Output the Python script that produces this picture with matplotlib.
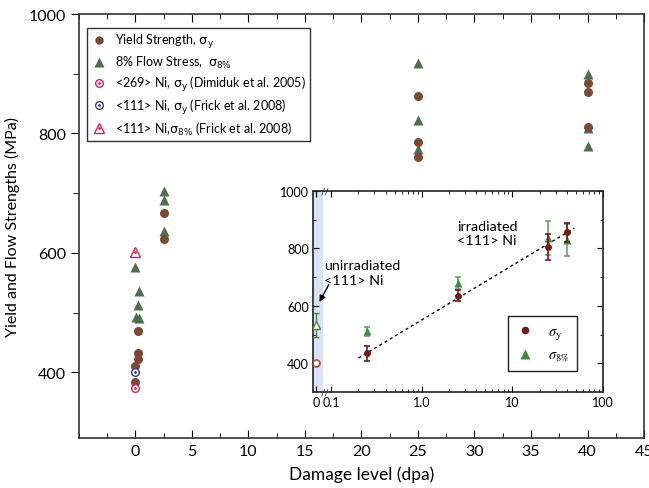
import matplotlib
matplotlib.use("Agg")
import matplotlib.pyplot as plt
import matplotlib.transforms as mtrans
import numpy as np
from matplotlib.legend_handler import HandlerTuple
from matplotlib.lines import Line2D

plt.rcParams['font.family'] = ['Lato', 'DejaVu Sans']
plt.rcParams['mathtext.fontset'] = 'dejavusans'

# ---------------- main chart data ----------------
ys_dpa = [0.2, 0.2, 0.2, 0, 0, 2.5, 2.5, 25, 25, 25, 40, 40, 40]
ys_val = [469, 432, 422, 410, 383, 666, 623, 863, 785, 760, 884, 869, 811]
fs_dpa = [0, 0.3, 0.2, 0.05, 0.3, 2.5, 2.5, 2.5, 25, 25, 25, 40, 40, 40]
fs_val = [576, 537, 512, 493, 491, 703, 688, 636, 918, 822, 774, 899, 809, 779]
dim_dpa, dim_val = [0], [373]        # <269> Ni, sigma_y (Dimiduk 2005)
frk_y_dpa, frk_y_val = [0], [400]    # <111> Ni, sigma_y (Frick 2008)
frk_8_dpa, frk_8_val = [0], [601]    # <111> Ni, sigma_8% (Frick 2008)

# ---------------- inset data ----------------
in_dpa = [0.25, 2.5, 25, 40]
in_sy = [435, 636, 805, 856]
in_sy_err = [26, 19, 44, 33]
in_s8 = [512, 679, 836, 830]
in_s8_err = [16, 22, 60, 55]
unirr_sy, unirr_sy_err = 400, 8
unirr_s8, unirr_s8_err = 532, 42
fit_a, fit_b = 551, 190       # y = a + b*log10(dpa)
fit_x = [0.2, 48]

brown = '#7a4a36'
green = '#4e6e4e'
pink = '#c8285a'
navy = '#3c3c78'

fig = plt.figure(figsize=(6.49, 4.89), dpi=100)
ax = fig.add_axes([0.1217, 0.1022, 0.8706, 0.8671])

ax.plot(fs_dpa, fs_val, '^', color=green, ms=7.5, mec='none', zorder=3)
ax.plot(ys_dpa, ys_val, 'o', color=brown, ms=6.5, mec='none', zorder=3)
h3a, = ax.plot(dim_dpa, dim_val, 'o', mfc='white', mec=pink, ms=5.5, mew=1.0, zorder=4)
h3b, = ax.plot(dim_dpa, dim_val, '.', color=pink, ms=2, zorder=5)
h4a, = ax.plot(frk_y_dpa, frk_y_val, 'o', mfc='white', mec=navy, ms=5.5, mew=1.0, zorder=4)
h4b, = ax.plot(frk_y_dpa, frk_y_val, '.', color=navy, ms=2, zorder=5)
h5a, = ax.plot(frk_8_dpa, frk_8_val, '^', mfc='white', mec=pink, ms=7.5, mew=1.0, zorder=4)
h5b, = ax.plot(frk_8_dpa, frk_8_val, '.', color=pink, ms=2, zorder=5)

ax.set_xlim(-5, 45)
ax.set_ylim(290, 1000)
ax.set_xticks(range(0, 46, 5))
ax.set_xticks([x * 2.5 for x in range(-2, 19)], minor=True)
ax.set_yticks([400, 600, 800, 1000])
ax.set_yticks([500, 700, 900], minor=True)
ax.tick_params(axis='x', which='both', direction='in', top=True, bottom=True, labelsize=11.5, pad=4)
ax.tick_params(axis='x', which='major', length=6)
ax.tick_params(axis='x', which='minor', length=3.5)
ax.tick_params(axis='y', which='both', direction='out', left=True, right=False, labelsize=11.5)
ax.tick_params(axis='y', which='major', length=6)
ax.tick_params(axis='y', which='minor', length=4)
for s in ax.spines.values():
    s.set_linewidth(1.2)
    s.set_color('#333333')
ax.set_xlabel('Damage level (dpa)', fontsize=12.5, labelpad=6)
ax.set_ylabel('Yield and Flow Strengths (MPa)', fontsize=11.5, labelpad=6)

l1 = Line2D([], [], ls='none', marker='o', color=brown, ms=6, mec='none')
l2 = Line2D([], [], ls='none', marker='^', color=green, ms=7, mec='none')
leg = ax.legend([l1, l2, (h3a, h3b), (h4a, h4b), (h5a, h5b)],
                [r'Yield Strength, $\mathrm{\sigma_y}$',
                 r'8% Flow Stress,  $\mathrm{\sigma_{8\%}}$',
                 r'<269> Ni, $\mathrm{\sigma_y}$ (Dimiduk et al. 2005)',
                 r'<111> Ni, $\mathrm{\sigma_y}$ (Frick et al. 2008)',
                 r'<111> Ni,$\mathrm{\sigma_{8\%}}$ (Frick et al. 2008)'],
                handler_map={tuple: HandlerTuple(ndivide=1, pad=0)},
                loc='upper left', bbox_to_anchor=(0.014, 0.967), fontsize=9.0,
                frameon=True, fancybox=False, edgecolor='#333333', framealpha=1,
                labelspacing=0.3, handlelength=1.3, handletextpad=0.6,
                borderpad=0.35, borderaxespad=0)
leg.get_frame().set_linewidth(1.0)

# ---------------- inset ----------------
ai = fig.add_axes([0.4823, 0.1963, 0.4468, 0.4111])
ai.set_xscale('log')
ai.set_xlim(0.063, 100)
ai.set_ylim(300, 1000)
ai.axvspan(0.063, 0.0815, color='#dde1f6', zorder=0, lw=0)

ai.errorbar(in_dpa, in_s8, yerr=in_s8_err, fmt='^', color='#3d8b3d', ecolor='#6aa36a',
            ms=6, mec='none', capsize=2.5, elinewidth=1.2, capthick=1.2, zorder=3)
ai.errorbar(in_dpa, in_sy, yerr=in_sy_err, fmt='o', color='#6e1c1c', ecolor='#6e1c1c',
            ms=5, mec='none', capsize=2.5, elinewidth=1.2, capthick=1.2, zorder=4)
ai.errorbar([0.068], [unirr_s8], yerr=[unirr_s8_err], fmt='^', mfc='white', mec='#4e7e4e',
            ecolor='#4e7e4e', ms=6, mew=1.0, capsize=2.5, elinewidth=1.0, capthick=1.0, zorder=4)
ai.errorbar([0.068], [unirr_sy], yerr=[unirr_sy_err], fmt='o', mfc='white', mec='#9a5a3a',
            ecolor='#9a5a3a', ms=5, mew=1.2, capsize=2, elinewidth=1.0, zorder=4)

fx = np.array(fit_x)
ai.plot(fx, fit_a + fit_b * np.log10(fx), color='black', ls=(0, (2.2, 2.2)), lw=1.0, zorder=2)

ai.set_xticks([0.068, 0.1, 1, 10, 100])
ai.set_xticklabels(['0', '0.1', '1.0', '10', '100'])
minors = [m * d for d in (0.1, 1, 10) for m in range(2, 10)]
ai.set_xticks(minors, minor=True)
ai.xaxis.set_minor_formatter(matplotlib.ticker.NullFormatter())
ai.set_yticks([400, 600, 800, 1000])
ai.set_yticks([500, 700, 900], minor=True)
ai.tick_params(which='both', direction='in', top=True, right=True, labelsize=9, pad=3)
ai.tick_params(which='major', length=4.5)
ai.tick_params(which='minor', length=2.5)
for s in ai.spines.values():
    s.set_linewidth(1.2)
    s.set_color('#222222')

tb = mtrans.blended_transform_factory(ai.transData, ai.transAxes)
for yy in (0.0, 1.0):
    ai.text(0.086, yy, '//', transform=tb, ha='center', va='center', fontsize=7,
            color='#222222', zorder=6)

ai.text(0.083, 762, 'unirradiated\n<111> Ni', fontsize=10.3, va='top', ha='left', linespacing=1.25)
ai.annotate('', xy=(0.0718, 605), xytext=(0.097, 682),
            arrowprops=dict(arrowstyle='-|>', color='black', lw=1.0, mutation_scale=9))
ai.text(2.45, 900, 'irradiated\n<111> Ni', fontsize=10.3, va='top', ha='left', linespacing=1.25)

il1 = Line2D([], [], ls='none', marker='o', color='#6e1c1c', ms=5.5, mec='none')
il2 = Line2D([], [], ls='none', marker='^', color='#3d8b3d', ms=7, mec='none')
ileg = ai.legend([il1, il2], [r'$\sigma_{\mathrm{y}}$', r'$\sigma_{8\%}$'],
                 loc='upper left', bbox_to_anchor=(0.672, 0.378),
                 prop=dict(size=10.5, math_fontfamily='stix'),
                 frameon=True, fancybox=False, edgecolor='#222222', framealpha=1,
                 handlelength=1.2, handletextpad=1.0, borderpad=0.55, labelspacing=0.45,
                 borderaxespad=0)
ileg.get_frame().set_linewidth(1.0)

fig.savefig('out.png', dpi=100)
